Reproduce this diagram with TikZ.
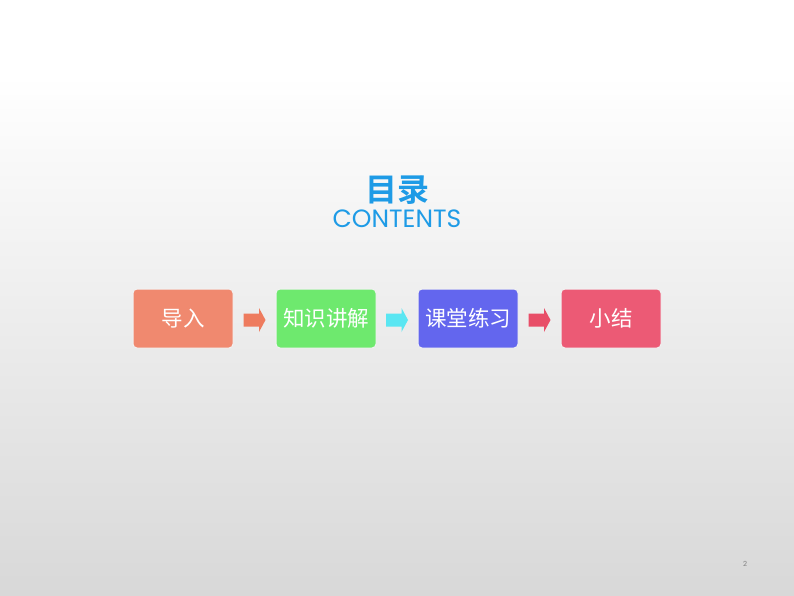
\documentclass[tikz,border=0pt]{standalone}
\usepackage{fontspec}
\newfontfamily\cjk{Noto Sans CJK SC}
\newfontfamily\cjkb{Noto Sans CJK SC Bold}
\newfontfamily\popp{Poppins}
\usetikzlibrary{calc}
\definecolor{bgtop}{HTML}{FFFFFF}
\definecolor{bgbot}{HTML}{D8D8D8}
\definecolor{titleblue}{HTML}{1E9BE6}
\definecolor{cA}{HTML}{F0896F}
\definecolor{cB}{HTML}{6EE96E}
\definecolor{cC}{HTML}{6366EE}
\definecolor{cD}{HTML}{EC5A75}
\definecolor{aA}{HTML}{EE7B5E}
\definecolor{aB}{HTML}{5AE6F2}
\definecolor{aC}{HTML}{E84E68}
\tikzset{
  stepbox/.style={draw=white!90!gray, line width=1pt, rounded corners=4pt,
    minimum width=100pt, minimum height=59pt, inner sep=0pt,
    text=white, font=\cjk\fontsize{21.5}{21.5}\selectfont},
  flowarrow/.style={draw=none},
  flow/.pic={\fill[pic actions] (-11,-6.5) -- (4.5,-6.5) -- (4.5,-12) -- (11,0) -- (4.5,12) -- (4.5,6.5) -- (-11,6.5) -- cycle;}
}
\begin{document}
\begin{tikzpicture}[x=1pt,y=-1pt]
\fill[white] (0,0) rectangle (794,75);
\shade[top color=bgtop, bottom color=bgbot] (0,75) rectangle (794,596);
\useasboundingbox (0,0) rectangle (794,596);
\node[text=titleblue, font=\cjkb\fontsize{32}{32}\selectfont] (title) at (397,190) {目录};
\node[text=titleblue, font=\popp\fontsize{25}{25}\selectfont] (contents) at (397,219) {CONTENTS};
\node[stepbox, fill=cA] (s1) at (183,318.5) {导入};
\node[stepbox, fill=cB] (s2) at (326,318.5) {知识讲解};
\node[stepbox, fill=cC] (s3) at (468,318.5) {课堂练习};
\node[stepbox, fill=cD] (s4) at (611,318.5) {小结};
\coordinate (m1) at ($(s1.east)!0.5!(s2.west)+(0,1.5)$);
\coordinate (m2) at ($(s2.east)!0.5!(s3.west)+(0,1.5)$);
\coordinate (m3) at ($(s3.east)!0.5!(s4.west)+(0,1.5)$);
\pic[fill=aA] (a1) at (m1) {flow};
\pic[fill=aB] (a2) at (m2) {flow};
\pic[fill=aC] (a3) at (m3) {flow};
\node[text=gray, font=\popp\fontsize{7}{7}\selectfont] (pg) at (745,564) {2};
\end{tikzpicture}
\end{document}
